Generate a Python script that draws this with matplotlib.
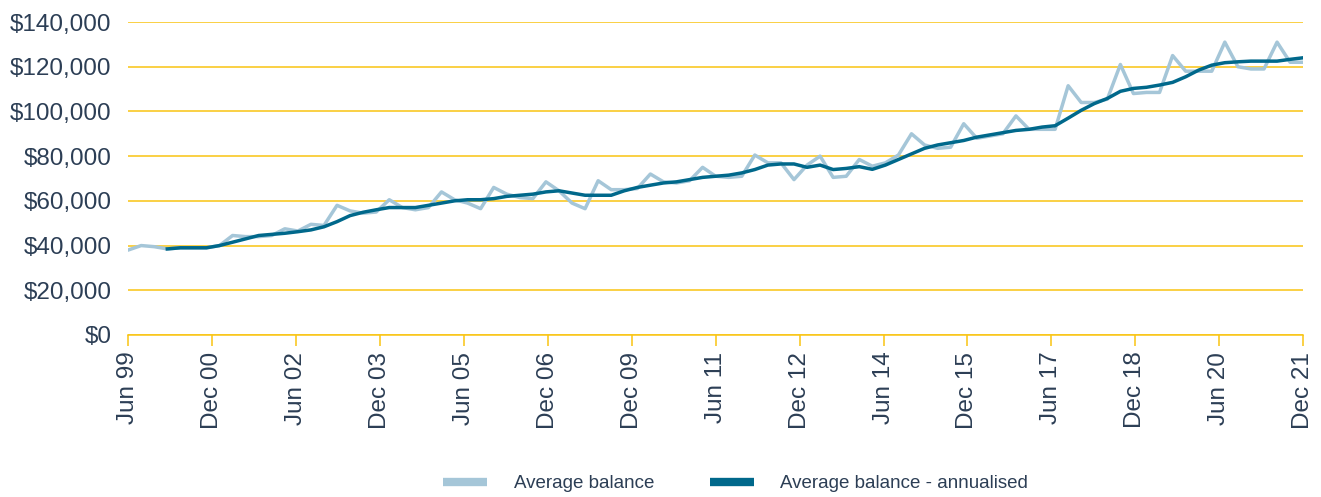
import numpy as np
import matplotlib
matplotlib.use("Agg")
import matplotlib.pyplot as plt
from matplotlib.ticker import FuncFormatter

# quarterly, Jun 99 .. Dec 21 (91 points), values in $'000
avg_balance = [
    38, 40, 39.5, 38.5, 39, 39, 39, 40, 44.5, 44, 44, 44.5,
    47.5, 46.5, 49.5, 49, 58, 55.5, 54.5, 55, 60.5, 57, 56, 57,
    64, 60.5, 59, 56.5, 66, 63, 61.5, 61, 68.5, 64.5, 59, 56.5,
    69, 65, 65, 65.5, 72, 68.5, 68, 69, 75, 71, 70.5, 71,
    80.5, 77, 77, 69.5, 76, 80, 70.5, 71, 78.5, 75.5, 77, 80.5,
    90, 85, 83.5, 84, 94.5, 88, 89, 90, 98, 92, 92, 92,
    111.5, 104, 104, 105.5, 121, 108, 108.5, 108.5, 125, 118, 118, 118,
    131, 120, 119, 119, 131, 122, 122,
]
# annualised series starts at the 4th quarter
annualised = [
    None, None, None,
    38.5, 39, 39, 39, 40, 41.5, 43, 44.5, 45,
    45.5, 46.2, 47, 48.4, 50.7, 53.4, 54.9, 56, 57, 57, 57, 58,
    59, 60, 60.5, 60.5, 61, 62, 62.5, 63, 64, 64.5, 63.5, 62.5,
    62.5, 62.5, 64.5, 66, 67, 68, 68.5, 69.5, 70.5, 71, 71.5, 72.5,
    74, 76, 76.5, 76.5, 75, 76, 74, 74.5, 75.3, 74.1, 76, 78.5,
    81, 83.5, 85, 86, 87, 88.5, 89.5, 90.5, 91.5, 92, 93, 93.6,
    97, 100.5, 103.5, 105.8, 109, 110.3, 110.8, 111.8, 113, 115.5, 118.5, 120.7,
    121.8, 122.2, 122.5, 122.5, 122.5, 123.3, 124,
]
tick_labels = ["Jun 99", "Dec 00", "Jun 02", "Dec 03", "Jun 05", "Dec 06", "Dec 09",
               "Jun 11", "Dec 12", "Jun 14", "Dec 15", "Jun 17", "Dec 18", "Jun 20", "Dec 21"]

light = "#a5c6d8"
dark = "#00688b"
gold = "#f9c412"
text_col = "#2c3e55"

plt.rcParams['font.family'] = ['Liberation Sans', 'DejaVu Sans']

x = np.arange(len(avg_balance))
ann = np.array([np.nan if v is None else v for v in annualised], dtype=float)

fig = plt.figure(figsize=(13.21, 4.97), dpi=100)
ax = fig.add_axes([0.097, 0.326, 0.8895, 0.6297])

ax.plot(x, np.array(avg_balance) * 1000, color=light, lw=2.5, label="Average balance")
ax.plot(x, ann * 1000, color=dark, lw=2.5, label="Average balance - annualised")

ax.set_xlim(0, len(avg_balance) - 1)
ax.set_ylim(0, 140000)
ax.set_yticks(np.arange(0, 140001, 20000))
ax.yaxis.set_major_formatter(FuncFormatter(lambda v, p: f"${v:,.0f}"))
ax.grid(axis="y", color=gold, lw=1.1)
ax.set_axisbelow(True)

ax.set_xticks(np.linspace(0, len(avg_balance) - 1, len(tick_labels)))
ax.set_xticklabels(tick_labels, rotation=90)

for s in ["top", "right", "left"]:
    ax.spines[s].set_visible(False)
ax.spines["bottom"].set_color(gold)
ax.spines["bottom"].set_linewidth(1.1)
ax.tick_params(axis="x", colors=gold, length=8, width=1.1, pad=4, labelcolor=text_col, labelsize=17.5)
ax.tick_params(axis="y", length=0, pad=12, labelcolor=text_col, labelsize=17.5)

leg = fig.legend(loc="center", bbox_to_anchor=(0.557, 0.027), ncol=2, frameon=False,
                 fontsize=13.5, handlelength=2.35, handletextpad=1.4, columnspacing=3.0)
for h in leg.get_lines():
    h.set_linewidth(6)
    h.set_solid_capstyle("butt")
for t in leg.get_texts():
    t.set_color(text_col)

fig.savefig("out.png", dpi=100)
